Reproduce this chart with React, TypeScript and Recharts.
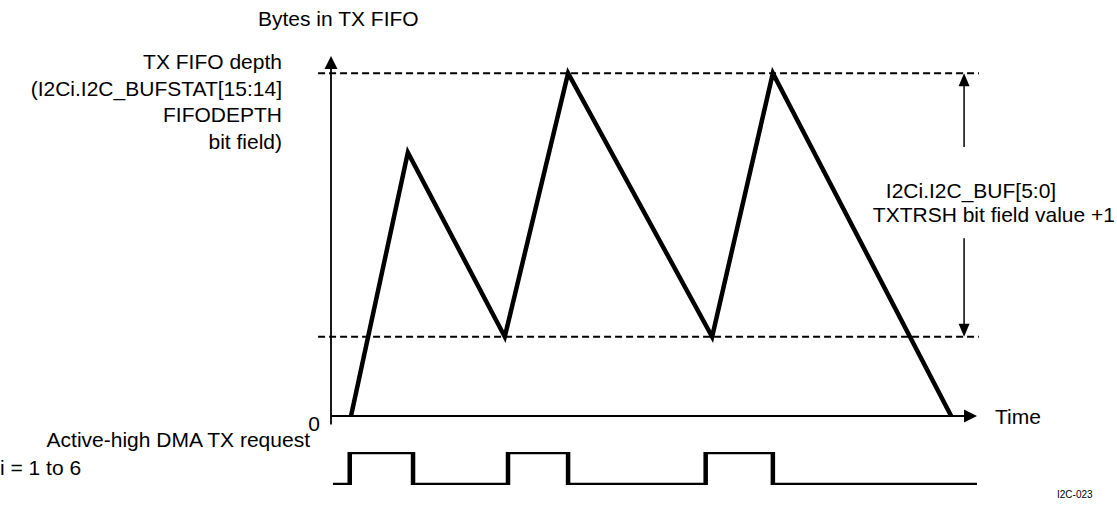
import { ComposedChart, LineChart, Line, XAxis, YAxis, ReferenceLine, ReferenceDot } from "recharts"

// FIFO fill level over time (time in arbitrary units 0..100, bytes 0..depth)
const fifoTimes = [3.1, 11.9, 26.9, 36.7, 59.0, 68.4, 96.0]
const fifoBytes = [0, 24.6, 7.4, 32, 7.4, 32, 0]
const FIFO_DEPTH = 32
const TX_THRESHOLD = 7.4
const Y_TOP = 33.6
const T_END = 100

// DMA request: edges in the same time units
const dmaTimes = [0.3, 2.9, 12.7, 27.4, 36.7, 58.0, 68.4, 100]
const dmaLevels = [0, 1, 0, 1, 0, 1, 0, 0]

// span marker for the threshold annotation
const SPAN_T = 98
const SPAN_GAP_TOP = 25.1
const SPAN_GAP_BOTTOM = 16.6

const fifoData = fifoTimes.map((t, i) => ({ t, bytes: fifoBytes[i] }))
const dmaData = dmaTimes.map((t, i) => ({ t, level: dmaLevels[i] }))

const FONT = '"Liberation Sans", Arial, sans-serif'

const UpArrow = (props: any) => {
  const { cx, cy } = props
  return <polygon points={`${cx},${cy} ${cx - 6.5},${cy + 13} ${cx + 6.5},${cy + 13}`} fill="#000" />
}
const DownArrow = (props: any) => {
  const { cx, cy } = props
  return <polygon points={`${cx},${cy} ${cx - 5.5},${cy - 13} ${cx + 5.5},${cy - 13}`} fill="#000" />
}
const SmallUpArrow = (props: any) => {
  const { cx, cy } = props
  return <polygon points={`${cx},${cy} ${cx - 5.5},${cy + 13} ${cx + 5.5},${cy + 13}`} fill="#000" />
}
const RightArrow = (props: any) => {
  const { cx, cy } = props
  return <polygon points={`${cx},${cy} ${cx - 13},${cy - 6.5} ${cx - 13},${cy + 6.5}`} fill="#000" />
}

const margins = { left: 331, right: 140 }

export default function App() {
  return (
    <div style={{ position: "absolute", left: 0, top: 0, width: 1117, height: 506, background: "#fff" }}>
      <div style={{ position: "absolute", left: 0, top: 0 }}>
        <ComposedChart width={1117} height={506} data={fifoData} margin={{ top: 56, bottom: 90, ...margins }}>
          <XAxis type="number" dataKey="t" domain={[0, T_END]} allowDataOverflow hide />
          <YAxis type="number" domain={[0, Y_TOP]} allowDataOverflow hide />
          <ReferenceLine
            segment={[{ x: -2, y: FIFO_DEPTH }, { x: 100.3, y: FIFO_DEPTH }]}
            stroke="#000"
            strokeWidth={2}
            strokeDasharray="7 4"
            ifOverflow="visible"
          />
          <ReferenceLine
            segment={[{ x: -2, y: TX_THRESHOLD }, { x: 100.3, y: TX_THRESHOLD }]}
            stroke="#000"
            strokeWidth={2}
            strokeDasharray="7 4"
            ifOverflow="visible"
          />
          <ReferenceLine
            segment={[{ x: 0, y: -0.8 }, { x: 0, y: Y_TOP - 1 }]}
            stroke="#000"
            strokeWidth={1.8}
            ifOverflow="visible"
          />
          <ReferenceLine
            segment={[{ x: 0, y: 0 }, { x: T_END - 1, y: 0 }]}
            stroke="#000"
            strokeWidth={1.8}
            ifOverflow="visible"
          />
          <ReferenceLine
            segment={[{ x: SPAN_T, y: FIFO_DEPTH - 0.5 }, { x: SPAN_T, y: SPAN_GAP_TOP }]}
            stroke="#000"
            strokeWidth={1.5}
            ifOverflow="visible"
          />
          <ReferenceLine
            segment={[{ x: SPAN_T, y: SPAN_GAP_BOTTOM }, { x: SPAN_T, y: TX_THRESHOLD + 0.5 }]}
            stroke="#000"
            strokeWidth={1.5}
            ifOverflow="visible"
          />
          <ReferenceDot x={0} y={Y_TOP} r={0} ifOverflow="visible" shape={UpArrow} />
          <ReferenceDot x={T_END} y={0} r={0} ifOverflow="visible" shape={RightArrow} />
          <ReferenceDot x={SPAN_T} y={FIFO_DEPTH} r={0} ifOverflow="visible" shape={SmallUpArrow} />
          <ReferenceDot x={SPAN_T} y={TX_THRESHOLD} r={0} ifOverflow="visible" shape={DownArrow} />
          <Line
            type="linear"
            dataKey="bytes"
            stroke="#000"
            strokeWidth={4.5}
            dot={false}
            activeDot={false}
            isAnimationActive={false}
          />
        </ComposedChart>
      </div>

      <div style={{ position: "absolute", left: 0, top: 440 }}>
        <LineChart width={1117} height={60} data={dmaData} margin={{ top: 12, bottom: 15, ...margins }}>
          <XAxis type="number" dataKey="t" domain={[0, T_END]} allowDataOverflow hide />
          <YAxis type="number" domain={[0, 1]} allowDataOverflow hide />
          <Line
            type="stepAfter"
            dataKey="level"
            stroke="#000"
            strokeWidth={4.5}
            dot={false}
            activeDot={false}
            isAnimationActive={false}
          />
        </LineChart>
      </div>

      <svg
        width={1117}
        height={506}
        style={{ position: "absolute", left: 0, top: 0, pointerEvents: "none" }}
        fontFamily={FONT}
        fontSize={21}
        fill="#000"
      >
        <text x={258} y={26}>Bytes in TX FIFO</text>
        <text x={282} y={69} textAnchor="end">TX FIFO depth</text>
        <text x={282} y={96} textAnchor="end">(I2Ci.I2C_BUFSTAT[15:14]</text>
        <text x={282} y={122} textAnchor="end">FIFODEPTH</text>
        <text x={282} y={149} textAnchor="end">bit field)</text>
        <text x={320} y={431} textAnchor="end">0</text>
        <text x={995} y={424}>Time</text>
        <text x={971} y={198} textAnchor="middle">I2Ci.I2C_BUF[5:0]</text>
        <text x={1115} y={222} textAnchor="end">TXTRSH bit field value +1</text>
        <text x={310} y={447} textAnchor="end">Active-high DMA TX request</text>
        <text x={0} y={475}>i = 1 to 6</text>
        <text x={1057} y={498} fontSize={10}>I2C-023</text>
      </svg>
    </div>
  )
}
